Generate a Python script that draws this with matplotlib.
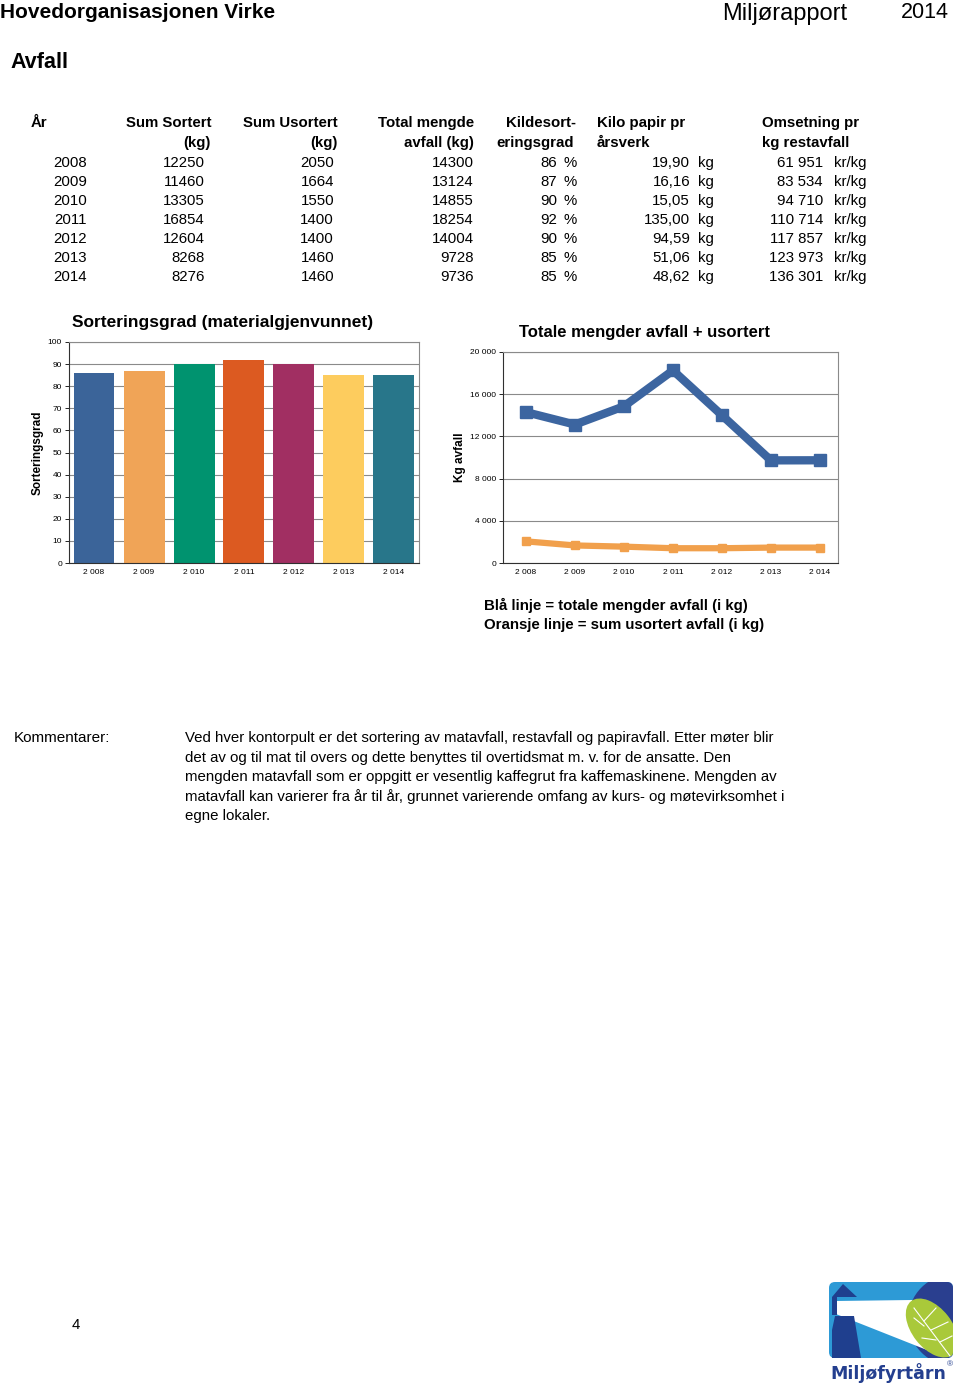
import matplotlib.pyplot as plt
from matplotlib.patches import FancyBboxPatch, Polygon, Circle, Ellipse

plt.rcParams['font.family'] = ['Liberation Sans', 'DejaVu Sans']

W, H = 960, 1392

# table data
years = ["2008", "2009", "2010", "2011", "2012", "2013", "2014"]
sum_sortert = [12250, 11460, 13305, 16854, 12604, 8268, 8276]
sum_usortert = [2050, 1664, 1550, 1400, 1400, 1460, 1460]
total_mengde = [14300, 13124, 14855, 18254, 14004, 9728, 9736]
kildesort = [86, 87, 90, 92, 90, 85, 85]
kilo_papir = ["19,90", "16,16", "15,05", "135,00", "94,59", "51,06", "48,62"]
omsetning = ["61 951", "83 534", "94 710", "110 714", "117 857", "123 973", "136 301"]

# chart data
year_labels = ["2 008", "2 009", "2 010", "2 011", "2 012", "2 013", "2 014"]
bar_colors = ["#3b6499", "#f0a457", "#00936f", "#dc5a21", "#a12f62", "#fdcc5e", "#28768a"]

comment_lines = [
    "Ved hver kontorpult er det sortering av matavfall, restavfall og papiravfall. Etter møter blir",
    "det av og til mat til overs og dette benyttes til overtidsmat m. v. for de ansatte. Den",
    "mengden matavfall som er oppgitt er vesentlig kaffegrut fra kaffemaskinene. Mengden av",
    "matavfall kan varierer fra år til år, grunnet varierende omfang av kurs- og møtevirksomhet i",
    "egne lokaler.",
]

fig = plt.figure(figsize=(W / 100, H / 100), dpi=100)


def txt(x, y, s, **kw):
    kw.setdefault("va", "center")
    fig.text(x / W, 1 - y / H, s, **kw)


def box(l, t, r, b):
    return [l / W, 1 - b / H, (r - l) / W, (b - t) / H]


# header
txt(0, 12, "Hovedorganisasjonen Virke", fontsize=15, fontweight="bold")
txt(722, 14, "Miljørapport", fontsize=17)
txt(901, 13, "2014", fontsize=15.5)
txt(10, 62, "Avfall", fontsize=15.5, fontweight="bold")

# table
fs = 10.8
h1, h2 = 123, 143
txt(31, h1, "År", fontsize=fs, fontweight="bold")
txt(211, h1, "Sum Sortert", fontsize=fs, fontweight="bold", ha="right")
txt(211, h2, "(kg)", fontsize=fs, fontweight="bold", ha="right")
txt(338, h1, "Sum Usortert", fontsize=fs, fontweight="bold", ha="right")
txt(338, h2, "(kg)", fontsize=fs, fontweight="bold", ha="right")
txt(474, h1, "Total mengde", fontsize=fs, fontweight="bold", ha="right")
txt(474, h2, "avfall (kg)", fontsize=fs, fontweight="bold", ha="right")
txt(576, h1, "Kildesort-", fontsize=fs, fontweight="bold", ha="right")
txt(574, h2, "eringsgrad", fontsize=fs, fontweight="bold", ha="right")
txt(597, h1, "Kilo papir pr", fontsize=fs, fontweight="bold")
txt(597, h2, "årsverk", fontsize=fs, fontweight="bold")
txt(762, h1, "Omsetning pr", fontsize=fs, fontweight="bold")
txt(762, h2, "kg restavfall", fontsize=fs, fontweight="bold")

for i in range(len(years)):
    y = 163 + 19 * i
    txt(87, y, years[i], fontsize=fs, ha="right")
    txt(205, y, str(sum_sortert[i]), fontsize=fs, ha="right")
    txt(334, y, str(sum_usortert[i]), fontsize=fs, ha="right")
    txt(474, y, str(total_mengde[i]), fontsize=fs, ha="right")
    txt(557, y, str(kildesort[i]), fontsize=fs, ha="right")
    txt(564, y, "%", fontsize=fs)
    txt(690, y, kilo_papir[i], fontsize=fs, ha="right")
    txt(698, y, "kg", fontsize=fs)
    txt(823, y, omsetning[i], fontsize=fs, ha="right")
    txt(834, y, "kr/kg", fontsize=fs)


def style_axes(ax):
    for s in ["top", "right"]:
        ax.spines[s].set_color("#8a8a8a")
    for s in ["left", "bottom"]:
        ax.spines[s].set_color("#303030")
    for s in ax.spines.values():
        s.set_linewidth(0.8)
    ax.yaxis.grid(True, color="#8a8a8a", linewidth=0.8)
    ax.set_axisbelow(True)
    ax.tick_params(axis="y", length=3, width=0.6, labelsize=6, pad=2)
    ax.tick_params(axis="x", length=0, labelsize=6, pad=4)


# bar chart
ax1 = fig.add_axes(box(69, 342, 419, 563))
x = range(len(years))
ax1.bar(x, kildesort, width=0.82, color=bar_colors)
ax1.set_xlim(-0.5, 6.5)
ax1.set_ylim(0, 100)
ax1.set_yticks(range(0, 101, 10))
ax1.set_xticks(list(x))
ax1.set_xticklabels(year_labels)
style_axes(ax1)
ax1.set_ylabel("Sorteringsgrad", fontsize=8.5, fontweight="bold", labelpad=3)
txt(72, 323, "Sorteringsgrad (materialgjenvunnet)", fontsize=12.5, fontweight="bold")

# line chart
ax2 = fig.add_axes(box(503, 352, 838, 563))
ax2.plot(x, total_mengde, color="#3c65a0", linewidth=6, marker="s", markersize=8,
         solid_joinstyle="miter")
ax2.plot(x, sum_usortert, color="#f1a04c", linewidth=4.5, marker="s", markersize=6)
ax2.set_xlim(-0.47, 6.37)
ax2.set_ylim(0, 20000)
ax2.set_yticks(range(0, 20001, 4000))
ax2.set_yticklabels(["0", "4 000", "8 000", "12 000", "16 000", "20 000"])
ax2.set_xticks(list(x))
ax2.set_xticklabels(year_labels)
style_axes(ax2)
ax2.set_ylabel("Kg avfall", fontsize=8.5, fontweight="bold", labelpad=3)
txt(519, 333, "Totale mengder avfall + usortert", fontsize=12, fontweight="bold")

txt(484, 605, "Blå linje = totale mengder avfall (i kg)", fontsize=10.8, fontweight="bold")
txt(484, 625, "Oransje linje = sum usortert avfall (i kg)", fontsize=10.8, fontweight="bold")

# comments
txt(14, 738, "Kommentarer:", fontsize=11)
for i, line in enumerate(comment_lines):
    txt(185, 738 + 19.6 * i, line, fontsize=10.8)

txt(72, 1325, "4", fontsize=10.8)

# logo
axl = fig.add_axes(box(828, 1280, 956, 1390))
axl.set_xlim(0, 128)
axl.set_ylim(110, 0)
axl.axis("off")
bg = FancyBboxPatch((1, 2), 124, 76, boxstyle="round,pad=0,rounding_size=6",
                    facecolor="#2d9ad6", edgecolor="none")
axl.add_patch(bg)
dark = Circle((126, 40), 46, facecolor="#2a3f8f", edgecolor="none")
axl.add_patch(dark)
dark.set_clip_path(bg)
beam = Polygon([(8, 21), (84, 20), (104, 72), (8, 34)], closed=True,
               facecolor="white", edgecolor="none")
axl.add_patch(beam)
leaf = Ellipse((104, 48), 40, 68, angle=-38, facecolor="#a9c93a", edgecolor="none")
axl.add_patch(leaf)
leaf.set_clip_path(bg)
for (a, b) in [((86, 28), (122, 76)), ((96, 41), (108, 28)), ((103, 50), (120, 42)),
               ((96, 46), (86, 38)), ((108, 60), (94, 58)), ((112, 62), (124, 56))]:
    axl.plot([a[0], b[0]], [a[1], b[1]], color="white", linewidth=0.8)
house = Polygon([(4, 17), (15, 4), (29, 17)], closed=True, facecolor="#1f3f8e",
                edgecolor="none")
axl.add_patch(house)
lantern = Polygon([(4, 17), (9, 17), (9, 35), (4, 35)], closed=True,
                  facecolor="#1f3f8e", edgecolor="none")
axl.add_patch(lantern)
tower = Polygon([(7, 36), (26, 36), (33, 78), (4, 78), (4, 50)], closed=True,
                facecolor="#1f3f8e", edgecolor="none")
axl.add_patch(tower)
axl.text(2, 93, "Miljøfyrtårn", fontsize=12.5, fontweight="bold", color="#243f8f",
         va="center", family=["DejaVu Sans"])
axl.text(119, 85, "®", fontsize=6, color="#243f8f", va="center")

fig.savefig("out.png", dpi=100)
